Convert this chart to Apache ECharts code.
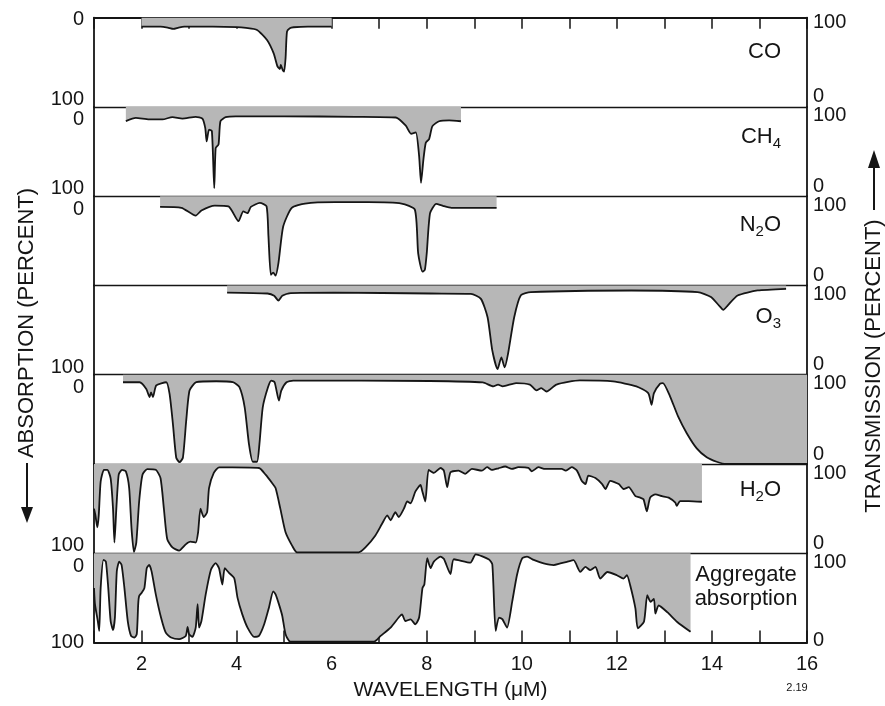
<!DOCTYPE html>
<html>
<head>
<meta charset="utf-8">
<title>Absorption spectra</title>
<script src="https://cdn.jsdelivr.net/npm/echarts@6/dist/echarts.min.js"></script>
<style>
  html, body { margin: 0; padding: 0; background: #fff; }
  #chart { width: 885px; height: 706px; }
</style>
</head>
<body>
<div id="chart"></div>
<script>
// wavelength (µm) and absorption (%)
const coWave = [2.0, 2.4, 2.55, 2.67, 2.78, 2.9, 3.5, 4.0, 4.2, 4.43, 4.64, 4.78, 4.86, 4.91, 4.93, 4.97, 5.0, 5.03, 5.06, 5.12, 5.2, 5.5, 6.0];
const coAbs = [10, 10, 11, 12.5, 11, 10, 10, 10.5, 11.5, 13.7, 25, 40, 54.5, 57.5, 53, 58.6, 60.4, 45.5, 15.5, 11.8, 10.7, 10, 10];

const ch4Wave = [1.67, 1.88, 2.16, 2.44, 2.65, 2.86, 3.14, 3.28, 3.34, 3.37, 3.42, 3.48, 3.53, 3.56, 3.62, 3.66, 3.77, 3.98, 5.0, 6.5, 7.35, 7.56, 7.67, 7.77, 7.84, 7.88, 7.93, 7.98, 8.05, 8.12, 8.26, 8.47, 8.72];
const ch4Abs = [15.8, 12.2, 14, 14, 11.3, 13, 11, 13, 23.5, 38.5, 25.5, 27, 91, 46, 42, 16, 11.5, 10.5, 10.5, 11, 11.8, 21, 30, 28.5, 55, 85, 59, 40, 36, 21.5, 16, 15, 16];

const n2oWave = [2.39, 2.84, 3.14, 3.26, 3.54, 3.83, 4.04, 4.14, 4.23, 4.3, 4.49, 4.63, 4.67, 4.72, 4.77, 4.82, 4.88, 4.98, 5.16, 5.44, 6.07, 6.77, 7.47, 7.75, 7.82, 7.91, 7.96, 8.0, 8.07, 8.2, 8.35, 8.52, 9.47];
const n2oAbs = [12, 13, 21.7, 16, 10.5, 11.3, 28, 17, 19, 12, 7.5, 11.2, 45, 88, 85.5, 89, 75, 34, 13, 8.2, 6.7, 6.7, 8.2, 15, 64, 84.5, 82.5, 64, 19, 8.5, 11, 13, 13];

const o3Wave = [3.8, 4.65, 4.79, 4.88, 4.96, 5.14, 6.05, 8.08, 8.93, 9.14, 9.28, 9.38, 9.49, 9.57, 9.64, 9.71, 9.84, 9.98, 10.19, 12.3, 13.7, 13.98, 14.15, 14.24, 14.33, 14.54, 14.96, 15.56];
const o3Abs = [8, 9, 11.5, 17, 11.5, 8.5, 8, 9, 9.3, 15, 35.6, 73, 93.6, 80.6, 91.8, 76.7, 35.6, 11, 7.5, 5.6, 7.5, 13, 22.5, 27.3, 22.5, 11.2, 5.6, 3.7];

const co2Wave = [1.61, 1.96, 2.1, 2.17, 2.2, 2.24, 2.31, 2.52, 2.59, 2.66, 2.73, 2.8, 2.87, 2.94, 3.01, 3.15, 3.57, 3.92, 4.06, 4.17, 4.26, 4.34, 4.43, 4.48, 4.55, 4.66, 4.73, 4.8, 4.89, 4.94, 5.05, 5.19, 8.06, 9.18, 9.4, 9.5, 9.6, 9.88, 10.17, 10.31, 10.41, 10.52, 10.73, 11.22, 11.92, 12.41, 12.66, 12.73, 12.78, 12.91, 12.97, 13.12, 13.29, 13.47, 13.68, 13.89, 14.1, 14.3, 16];
const co2Abs = [8.4, 8.4, 16, 25, 19.7, 25, 12, 8.4, 21.5, 55, 93, 98, 93, 51.5, 17.7, 8.4, 7.3, 8.4, 14, 36.5, 77.7, 97.5, 97.5, 77.7, 36.5, 14, 6.5, 8.4, 29, 17.7, 8.4, 6.5, 7, 8.6, 13, 11, 13, 9.3, 11, 17.6, 15, 18.8, 11, 6.4, 7.5, 13, 20.6, 33.7, 20.6, 10, 9.3, 24.4, 47, 65.5, 82.5, 92.5, 97.5, 100, 100];

const h2oWave = [1.0, 1.03, 1.07, 1.1, 1.14, 1.21, 1.28, 1.35, 1.4, 1.43, 1.47, 1.52, 1.59, 1.67, 1.74, 1.79, 1.84, 1.89, 1.95, 2.02, 2.12, 2.3, 2.4, 2.47, 2.54, 2.65, 2.79, 2.93, 3.03, 3.14, 3.19, 3.24, 3.31, 3.38, 3.42, 3.52, 3.63, 3.91, 4.47, 4.61, 4.75, 4.82, 4.92, 5.03, 5.17, 5.27, 6.57, 6.71, 6.92, 7.06, 7.17, 7.24, 7.34, 7.41, 7.52, 7.59, 7.66, 7.76, 7.87, 7.9, 7.97, 8.04, 8.15, 8.29, 8.36, 8.43, 8.5, 8.67, 8.81, 8.95, 9.16, 9.27, 9.37, 9.51, 9.65, 9.79, 9.93, 10.14, 10.21, 10.35, 10.49, 10.84, 10.92, 11.05, 11.16, 11.26, 11.34, 11.4, 11.55, 11.69, 11.76, 11.86, 12.04, 12.14, 12.25, 12.39, 12.49, 12.56, 12.63, 12.7, 12.81, 12.95, 13.09, 13.23, 13.26, 13.33, 13.51, 13.79];
const h2oAbs = [50, 57.6, 71, 57.6, 19.7, 6.5, 6.5, 16, 50, 88, 50, 12, 6.5, 8.3, 27, 72.7, 98.5, 88, 42, 12, 5.7, 6.5, 16, 50, 84, 93.5, 97, 90, 87, 88, 76.5, 50, 59.5, 54, 27, 10, 3.8, 3.8, 4.5, 12, 21.6, 27, 50, 76.5, 91.7, 99, 99, 93.5, 80, 67, 57.6, 63, 54, 59.5, 50, 42, 44, 31, 23.5, 29, 42, 6.5, 10, 4.5, 7.4, 26, 9.3, 7.4, 11, 5.5, 7.4, 3.6, 6.6, 4.8, 2.8, 5.5, 3.6, 4.3, 8.2, 3.6, 5.5, 5.5, 7.4, 3.6, 7.4, 18.8, 22.5, 13, 15.7, 22.5, 28, 18.8, 22.5, 28, 26, 36, 37.7, 39.5, 53, 37.7, 34, 36, 37.7, 43.4, 47, 41.5, 41.5, 42.3];

const aggWave = [1.0, 1.02, 1.08, 1.11, 1.14, 1.2, 1.25, 1.3, 1.35, 1.4, 1.44, 1.48, 1.53, 1.58, 1.64, 1.71, 1.78, 1.85, 1.9, 1.93, 1.95, 2.0, 2.06, 2.11, 2.16, 2.21, 2.3, 2.41, 2.51, 2.62, 2.79, 2.93, 2.97, 3.0, 3.07, 3.14, 3.18, 3.21, 3.26, 3.35, 3.46, 3.56, 3.63, 3.7, 3.75, 3.84, 3.95, 4.02, 4.12, 4.23, 4.37, 4.47, 4.58, 4.68, 4.77, 4.82, 4.89, 4.96, 5.03, 5.13, 6.89, 7.03, 7.24, 7.41, 7.48, 7.55, 7.66, 7.76, 7.84, 7.91, 7.95, 8.01, 8.08, 8.15, 8.29, 8.36, 8.5, 8.57, 8.92, 9.03, 9.31, 9.38, 9.45, 9.52, 9.59, 9.69, 9.8, 9.9, 10.01, 10.11, 10.25, 10.46, 10.67, 10.81, 10.95, 11.09, 11.23, 11.34, 11.44, 11.55, 11.65, 11.8, 12.0, 12.14, 12.21, 12.28, 12.39, 12.44, 12.57, 12.64, 12.71, 12.78, 12.81, 12.88, 13.06, 13.27, 13.55];
const aggAbs = [39, 57, 76, 87, 39, 7.4, 9.3, 39, 76, 86, 72, 20, 9.3, 13, 39, 76, 92.6, 94.4, 90.7, 57, 48, 44.4, 39, 16.7, 13, 20, 46, 72, 89, 94.4, 96.3, 92.6, 82.6, 90.7, 93.7, 83.3, 57, 83.3, 76, 46, 18.5, 11, 16.7, 35, 16.7, 22, 28, 50, 68.5, 83.3, 93.7, 92.6, 79.6, 61, 42.6, 46, 57, 70, 90.7, 99, 99, 92.6, 83.3, 72, 68.5, 76, 74, 79.6, 72, 39, 35, 5.6, 16.7, 9.3, 3.7, 6.2, 23.3, 6.7, 10.6, 1.3, 7, 12.6, 86.8, 72, 73.8, 83.2, 53.6, 24, 5.5, 3.7, 7.5, 11.3, 13.2, 11.4, 9.6, 7.8, 20.8, 15.3, 19, 15.3, 28.3, 21, 24.6, 28.4, 24.6, 35.8, 61.8, 84, 76.6, 47, 54.5, 51, 67.7, 58.5, 66, 77, 88];

// panel names and which left-hand labels each panel shows
const gasNames = ['CO', 'CH|4', 'N|2|O', 'O|3', 'CO|2', 'H|2|O', 'Aggregate absorption'];
const leftLabels = [['0', '100'], ['0', '100'], ['0'], ['100'], ['0'], ['100'], ['0', '100']];
const xTickLabels = [2, 4, 6, 8, 10, 12, 14, 16];

const panels = [
    [coWave, coAbs], [ch4Wave, ch4Abs], [n2oWave, n2oAbs], [o3Wave, o3Abs],
    [co2Wave, co2Abs], [h2oWave, h2oAbs], [aggWave, aggAbs]
];

const FONT = 'Liberation Sans, Arial, sans-serif';
const INK = '#151515';
const panelTop = 17.7;
const panelH = 89.26;
const gridLeft = 94;
const gridRight = 78;

let grids = [], xAxes = [], yAxes = [], series = [];

panels.forEach((p, i) => {
    let last = i === panels.length - 1;
    grids.push({ left: gridLeft, right: gridRight, top: panelTop + i * panelH, height: panelH });

    // top line of each panel (the divider)
    xAxes.push({
        gridIndex: i, type: 'value', min: 1, max: 16, interval: 1, position: 'top',
        axisLine: { show: true, lineStyle: { color: INK, width: i === 0 ? 2 : 1.4 } },
        axisTick: { show: i === 0, inside: true, length: 11, lineStyle: { color: INK, width: 1.5 } },
        axisLabel: { show: false },
        splitLine: { show: false }
    });

    let shows = leftLabels[i];
    yAxes.push({
        gridIndex: i, type: 'value', min: 0, max: 100, interval: 100, inverse: true, position: 'left',
        axisLine: { show: true, lineStyle: { color: INK, width: 1.8 } },
        axisTick: { show: false },
        splitLine: { show: false },
        axisLabel: {
            showMinLabel: true, showMaxLabel: true, margin: 10,
            formatter: function (v) {
                if (v === 0 && shows.indexOf('0') >= 0) return '{t|0}';
                if (v === 100 && shows.indexOf('100') >= 0) return '{b|100}';
                return '';
            },
            rich: {
                t: { fontSize: 20, fontFamily: FONT, color: INK, padding: [i === 0 ? 4 : 26, 0, 0, 0] },
                b: { fontSize: 20, fontFamily: FONT, color: INK, padding: [0, 0, last ? 0 : 15, 0] }
            }
        }
    });
    yAxes.push({
        gridIndex: i, type: 'value', min: 0, max: 100, interval: 100, position: 'right',
        axisLine: { show: true, lineStyle: { color: INK, width: 1.8 } },
        axisTick: { show: false },
        splitLine: { show: false },
        axisLabel: {
            showMinLabel: true, showMaxLabel: true, margin: 6,
            formatter: function (v) {
                return v === 100 ? '{t|100}' : '{b|0}';
            },
            rich: {
                t: { fontSize: 20, fontFamily: FONT, color: INK, padding: [i === 0 ? 10 : 18, 0, 0, 0] },
                b: { fontSize: 20, fontFamily: FONT, color: INK, padding: [0, 0, last ? 4 : 20, 0] }
            }
        }
    });

    series.push({
        type: 'line',
        xAxisIndex: i,
        yAxisIndex: 2 * i,
        data: p[0].map((w, k) => [w, p[1][k]]),
        showSymbol: false,
        smooth: 0.2,
        lineStyle: { color: INK, width: 1.8 },
        areaStyle: { color: '#b7b7b7', opacity: 1 },
        animation: false
    });
});

// bottom wavelength axis
xAxes.push({
    gridIndex: panels.length - 1, type: 'value', min: 1, max: 16, interval: 1, position: 'bottom',
    name: 'WAVELENGTH (μM)', nameLocation: 'middle', nameGap: 37,
    nameTextStyle: { fontSize: 21, fontFamily: FONT, color: INK },
    axisLine: { show: true, lineStyle: { color: INK, width: 2 } },
    axisTick: { show: true, inside: true, length: 12, lineStyle: { color: INK, width: 1.5 } },
    axisLabel: {
        margin: 12, fontSize: 20, fontFamily: FONT, color: INK,
        showMinLabel: true, showMaxLabel: true,
        formatter: v => xTickLabels.indexOf(v) >= 0 ? String(v) : ''
    },
    splitLine: { show: false }
});

// gas name labels
const gasY = [52, 137, 225, 317, 402, 490];
let graphics = [];
gasNames.forEach((g, i) => {
    if (i === 6) return;
    let parts = g.split('|');
    let txt = parts.map((s, k) => k % 2 ? '{s|' + s + '}' : '{m|' + s + '}').join('');
    graphics.push({
        type: 'text', x: 781, y: gasY[i],
        style: {
            text: txt, align: 'right', verticalAlign: 'middle', textAlign: 'right', textVerticalAlign: 'middle',
            rich: {
                m: { fontSize: 22, fontFamily: FONT, fill: INK, color: INK },
                s: { fontSize: 15, fontFamily: FONT, fill: INK, color: INK, padding: [14, 0, 0, 0] }
            }
        }
    });
});
graphics.push({
    type: 'text', x: 746, y: 587,
    style: {
        text: 'Aggregate\nabsorption', font: '22px ' + FONT, fill: INK, lineHeight: 24,
        align: 'center', verticalAlign: 'middle', textAlign: 'center', textVerticalAlign: 'middle'
    }
});

// rotated axis titles with arrows
graphics.push({
    type: 'text', x: 27, y: 323, rotation: Math.PI / 2,
    style: {
        text: 'ABSORPTION (PERCENT)', font: '22px ' + FONT, fill: INK,
        align: 'center', verticalAlign: 'middle', textAlign: 'center', textVerticalAlign: 'middle'
    }
});
graphics.push({ type: 'line', shape: { x1: 27, y1: 463, x2: 27, y2: 510 }, style: { stroke: INK, lineWidth: 2 } });
graphics.push({ type: 'polygon', shape: { points: [[21, 507], [33, 507], [27, 523]] }, style: { fill: INK } });

graphics.push({
    type: 'text', x: 874, y: 366, rotation: Math.PI / 2,
    style: {
        text: 'TRANSMISSION (PERCENT)', font: '22px ' + FONT, fill: INK,
        align: 'center', verticalAlign: 'middle', textAlign: 'center', textVerticalAlign: 'middle'
    }
});
graphics.push({ type: 'line', shape: { x1: 874, y1: 210, x2: 874, y2: 165 }, style: { stroke: INK, lineWidth: 2 } });
graphics.push({ type: 'polygon', shape: { points: [[868, 168], [880, 168], [874, 150]] }, style: { fill: INK } });

graphics.push({
    type: 'text', x: 797, y: 688,
    style: {
        text: '2.19', font: '11px ' + FONT, fill: INK,
        align: 'center', verticalAlign: 'middle', textAlign: 'center', textVerticalAlign: 'middle'
    }
});

let chart = echarts.init(document.getElementById('chart'), null, { renderer: 'canvas' });
chart.setOption({
    backgroundColor: '#ffffff',
    animation: false,
    grid: grids,
    xAxis: xAxes,
    yAxis: yAxes,
    series: series,
    graphic: graphics
});
</script>
</body>
</html>
